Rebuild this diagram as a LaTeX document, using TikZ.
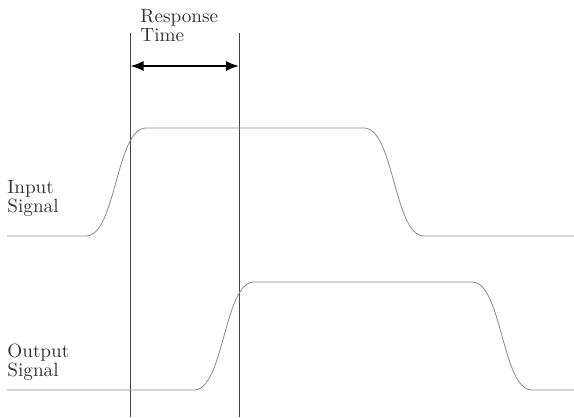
\documentclass[tikz,border=0pt]{standalone}
\usetikzlibrary{arrows.meta}
\definecolor{txt}{HTML}{333333}
\definecolor{sig}{HTML}{888888}
\definecolor{vline}{HTML}{444444}
\begin{document}
\begin{tikzpicture}[x=0.5pt,y=-0.5pt,
  lbl/.style={anchor=base west,align=left,inner sep=0pt,text=txt,font=\fontsize{9.6}{9.5}\selectfont},
  signal/.style={draw=sig,line width=0.4pt},
  marker/.style={draw=vline,line width=0.5pt},
  span/.style={draw=black,line width=0.8pt,{Latex[length=6.5pt,width=5pt]}-{Latex[length=6.5pt,width=5pt]}}]
\useasboundingbox (0,0) rectangle (574,418);
% labels (base = last line)
\node[lbl] (resp) at (140,41.7) {Response\\Time};
\node[lbl] (inp) at (7,212) {Input\\Signal};
\node[lbl] (outp) at (7,376) {Output\\Signal};
% marker lines
\coordinate (m1top) at (130.5,33);
\coordinate (m1bot) at (130.5,417);
\coordinate (m2top) at (239,33);
\coordinate (m2bot) at (239,417);
\draw[marker] (m1top) -- (m1bot);
\draw[marker] (m2top) -- (m2bot);
% arrow
\coordinate (a1) at (130.5,66);
\coordinate (a2) at (239,66);
\draw[span] (a1) -- (a2);
% input signal
\draw[signal] (7,236) -- (86,236) .. controls (116,236) and (116,128) .. (146,128)
  -- (364,128) .. controls (394,128) and (394,236) .. (424,236) -- (574,236);
% output signal
\draw[signal] (7,390) -- (194,390) .. controls (224,390) and (224,282) .. (254,282)
  -- (472,282) .. controls (502,282) and (502,390) .. (532,390) -- (574,390);
\end{tikzpicture}
\end{document}
